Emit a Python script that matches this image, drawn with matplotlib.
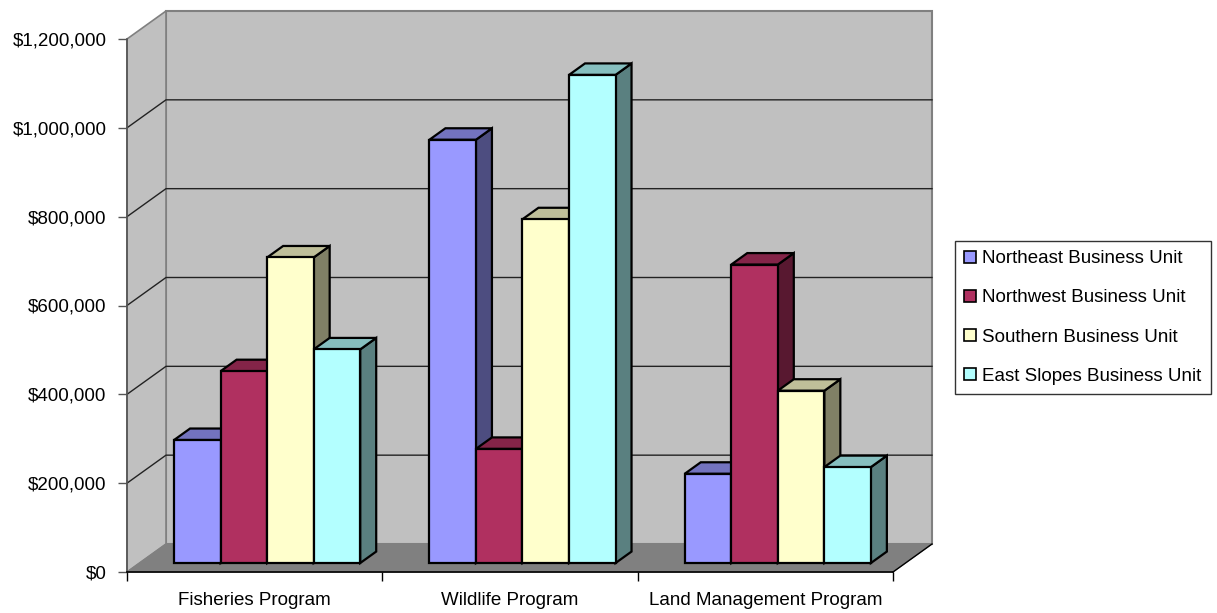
import matplotlib
matplotlib.use("Agg")
import matplotlib.pyplot as plt
from matplotlib.patches import Polygon, Patch
from matplotlib.ticker import FuncFormatter
from matplotlib import font_manager
import matplotlib.colors as mcolors

# Data
programs = ['Fisheries Program', 'Wildlife Program', 'Land Management Program']
units = ['Northeast Business Unit', 'Northwest Business Unit',
         'Southern Business Unit', 'East Slopes Business Unit']
northeast = [277000, 953000, 201000]
northwest = [432000, 257000, 672000]
southern = [688000, 774000, 388000]
east_slopes = [481000, 1099000, 216000]
series = [northeast, northwest, southern, east_slopes]
colors = ['#9999ff', '#b03060', '#ffffcc', '#b3ffff']
y_ticks = [0, 200000, 400000, 600000, 800000, 1000000, 1200000]

# fonts: text in the reference is a narrow sans
names = {f.name for f in font_manager.fontManager.ttflist}
if 'Liberation Sans Narrow' in names:
    family, fs = ['Liberation Sans Narrow', 'DejaVu Sans'], 16.5
else:
    family, fs = ['Liberation Sans', 'DejaVu Sans'], 13.5
plt.rcParams['font.family'] = family

W, H = 1217, 613
fig = plt.figure(figsize=(W / 100, H / 100), dpi=100)
ax = fig.add_axes([127 / W, (H - 572) / H, 766 / W, 533 / H])
ax.set_xlim(0, 3)
ax.set_ylim(0, 1200000)
ax.patch.set_visible(False)

# depth projection (full depth in data units)
DX = 39 / 255.33
DY = 28 / 533 * 1200000
ymax = 1200000


def proj(x, y, d):
    return (x + d * DX, y + d * DY)


def poly(pts, fc, ec, lw, z):
    ax.add_patch(Polygon(pts, closed=True, facecolor=fc, edgecolor=ec,
                         linewidth=lw, zorder=z, clip_on=False, joinstyle='miter'))


# walls and floor
poly([proj(0, 0, 1), proj(3, 0, 1), proj(3, ymax, 1), proj(0, ymax, 1)],
     '#c0c0c0', '#808080', 1.5, 1)
poly([proj(0, 0, 0), proj(0, 0, 1), proj(0, ymax, 1), proj(0, ymax, 0)],
     '#c0c0c0', '#808080', 1.2, 1)
poly([proj(0, 0, 0), proj(3, 0, 0), proj(3, 0, 1), proj(0, 0, 1)],
     '#808080', '#808080', 0.8, 1.1)

# gridlines on the walls
for v in y_ticks[1:-1]:
    xs = [proj(0, v, 0)[0], proj(0, v, 1)[0], proj(3, v, 1)[0]]
    ys = [proj(0, v, 0)[1], proj(0, v, 1)[1], proj(3, v, 1)[1]]
    ax.plot(xs, ys, color='#222222', lw=1.0, zorder=1.2, clip_on=False)
# floor right edge
ax.plot([3, proj(3, 0, 1)[0]], [0, proj(3, 0, 1)[1]], color='black', lw=1.0,
        zorder=1.2, clip_on=False)

# bars
n = len(series)
group = 0.729
bw = group / n
d0, d1 = 0.32, 0.73


def shade(c, f):
    r, g, b = mcolors.to_rgb(c)
    return (r * f, g * f, b * f)


for ci in range(len(programs)):
    x_start = ci + (1 - group) / 2
    for si, vals in enumerate(series):
        x0 = x_start + si * bw
        x1 = x0 + bw
        v = vals[ci]
        c = colors[si]
        z = 2 + ci * 0.1 + si * 0.01
        # side
        poly([proj(x1, 0, d0), proj(x1, 0, d1), proj(x1, v, d1), proj(x1, v, d0)],
             shade(c, 0.5), 'black', 1.6, z)
        # top
        poly([proj(x0, v, d0), proj(x1, v, d0), proj(x1, v, d1), proj(x0, v, d1)],
             shade(c, 0.75), 'black', 1.6, z + 0.001)
        # front
        poly([proj(x0, 0, d0), proj(x1, 0, d0), proj(x1, v, d0), proj(x0, v, d0)],
             c, 'black', 1.6, z + 0.002)

# axes
for s in ['top', 'right']:
    ax.spines[s].set_visible(False)
ax.spines['left'].set_color('#555555')
ax.spines['left'].set_linewidth(1.2)
ax.spines['bottom'].set_color('black')
ax.spines['bottom'].set_linewidth(1.2)
ax.spines['left'].set_zorder(5)
ax.spines['bottom'].set_zorder(5)

ax.set_yticks(y_ticks)
ax.yaxis.set_major_formatter(FuncFormatter(lambda v, p: '${:,.0f}'.format(v)))
ax.tick_params(axis='y', direction='out', length=6.5, width=1, color='#555555',
               pad=8.3, labelsize=fs)
ax.set_xticks([0, 1, 2, 3])
ax.set_xticklabels([])
ax.set_xticks([0.5, 1.5, 2.5], minor=True)
ax.set_xticklabels(programs, minor=True)
ax.tick_params(axis='x', which='major', direction='out', length=6.5, width=1,
               color='black')
ax.tick_params(axis='x', which='minor', length=0, pad=14.5, labelsize=fs)

# legend
handles = [Patch(facecolor=c, edgecolor='black', linewidth=1.2) for c in colors]
leg = fig.legend(handles, units, loc='upper left',
                 bbox_to_anchor=(955 / W, 1 - 241 / H), borderaxespad=0,
                 frameon=True, fancybox=False, fontsize=fs, handlelength=0.6,
                 handleheight=0.6, handletextpad=0.35, labelspacing=1.18,
                 borderpad=0.5)
leg.get_frame().set_edgecolor('black')
leg.get_frame().set_linewidth(1.0)

fig.savefig('out.png', dpi=100, facecolor='white')
